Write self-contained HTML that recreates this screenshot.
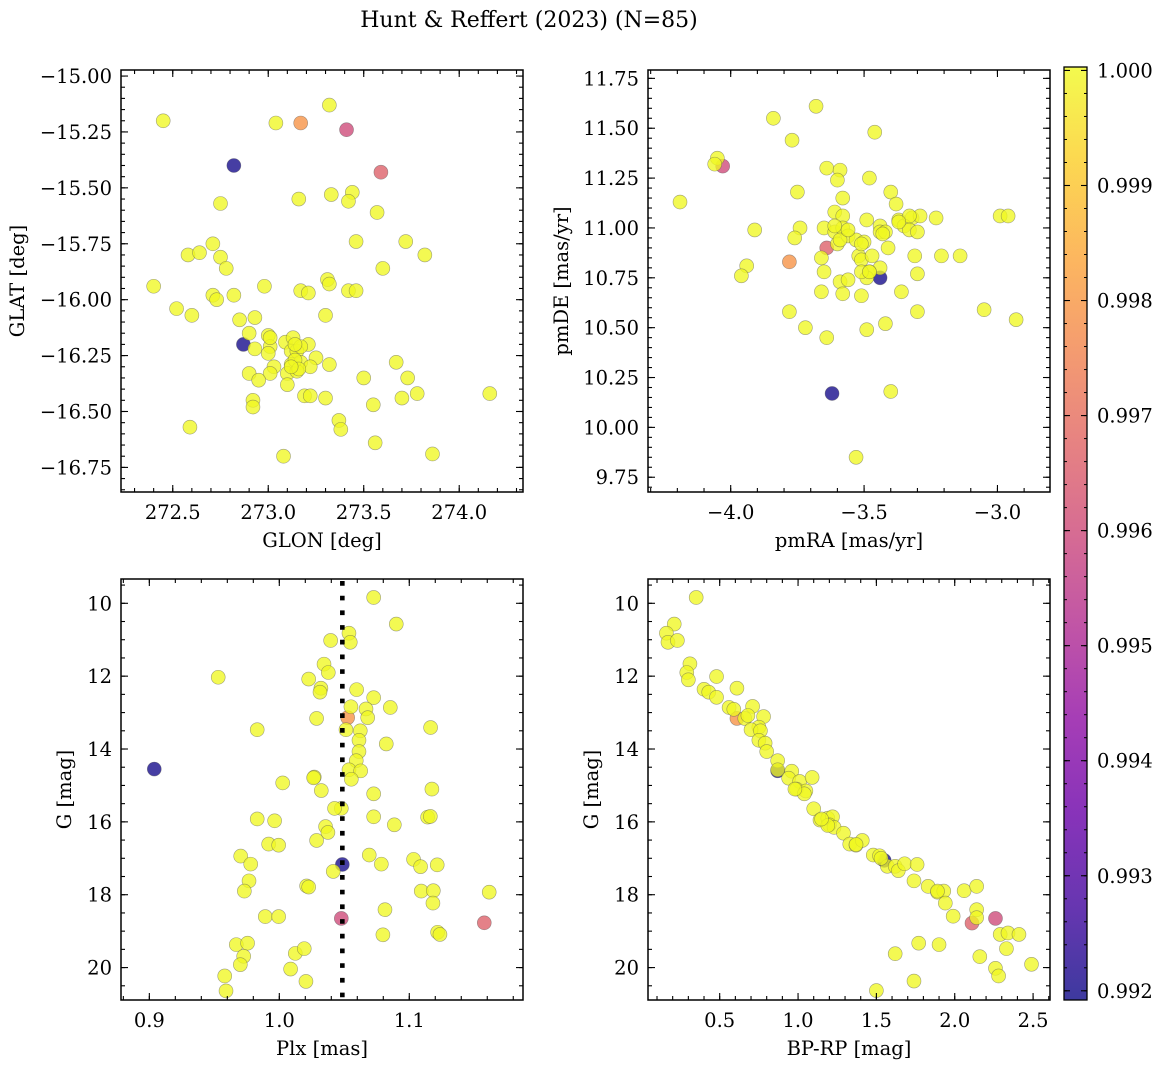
<!DOCTYPE html>
<html><head><meta charset="utf-8"><style>
html,body{margin:0;padding:0;background:#fff;}
svg{display:block;font-family:"DejaVu Serif","Liberation Serif",serif;}
</style></head><body>
<svg id="fig" width="1161" height="1067" viewBox="0 0 1161 1067" xmlns="http://www.w3.org/2000/svg">
<defs>
<linearGradient id="plasma" x1="0" y1="1" x2="0" y2="0">
<stop offset="0" stop-color="#0d0887"/><stop offset="0.1" stop-color="#41049d"/><stop offset="0.2" stop-color="#6a00a8"/><stop offset="0.3" stop-color="#8f0da4"/><stop offset="0.4" stop-color="#b12a90"/><stop offset="0.5" stop-color="#cc4778"/><stop offset="0.6" stop-color="#e16462"/><stop offset="0.7" stop-color="#f2844b"/><stop offset="0.8" stop-color="#fca636"/><stop offset="0.9" stop-color="#fcce25"/><stop offset="1" stop-color="#f0f921"/>
</linearGradient>
</defs>
<text x="529" y="27" font-size="22" text-anchor="middle">Hunt &amp; Reffert (2023) (N=85)</text>
</svg>
<script>
const glon=[272.45,273.04,273.17,273.32,273.41,272.82,273.59,272.75,273.16,273.33,273.44,273.42,273.57,272.71,272.58,272.64,272.75,272.78,273.46,273.72,273.82,273.60,272.40,272.98,273.31,273.32,273.17,273.21,273.42,273.46,272.71,272.73,272.82,272.52,272.60,273.30,272.85,272.93,272.90,272.87,273.00,272.93,273.01,273.00,273.09,273.13,273.21,273.12,273.15,273.25,273.32,273.03,273.01,272.90,272.95,273.12,273.17,273.22,273.10,273.15,273.10,273.19,273.22,273.30,272.92,272.92,273.67,273.50,273.73,273.78,273.70,273.55,274.16,273.37,273.38,272.59,273.56,273.08,273.86,273.14,273.16,273.12,273.17,273.01,273.14];
const glat=[-15.20,-15.21,-15.21,-15.13,-15.24,-15.40,-15.43,-15.57,-15.55,-15.53,-15.52,-15.56,-15.61,-15.75,-15.80,-15.79,-15.81,-15.86,-15.74,-15.74,-15.80,-15.86,-15.94,-15.94,-15.91,-15.93,-15.96,-15.97,-15.96,-15.96,-15.98,-16.00,-15.98,-16.04,-16.07,-16.07,-16.09,-16.08,-16.15,-16.20,-16.16,-16.22,-16.21,-16.24,-16.19,-16.17,-16.20,-16.23,-16.23,-16.26,-16.29,-16.30,-16.33,-16.33,-16.36,-16.29,-16.28,-16.30,-16.33,-16.32,-16.38,-16.43,-16.43,-16.44,-16.45,-16.48,-16.28,-16.35,-16.35,-16.42,-16.44,-16.47,-16.42,-16.54,-16.58,-16.57,-16.64,-16.70,-16.69,-16.27,-16.31,-16.30,-16.21,-16.17,-16.20];
const probA=[1,1,0.9979,1,0.9960,0.9920,0.9966,1,1,1, 1,1,1,1,1,1,1,1,1,1, 1,1,1,1,1,1,1,1,1,1, 1,1,1,1,1,1,1,1,1,0.9920, 1,1,1,1,1,1,1,1,1,1, 1,1,1,1,1,1,1,1,1,1, 1,1,1,1,1,1,1,1,1,1, 1,1,1,1,1,1,1,1,1,1, 1,1,1,1,1];
const pmra=[-4.19,-3.84,-3.68,-3.77,-3.46,-4.05,-4.06,-4.03,-3.64,-3.59,-3.60,-3.48,-3.75,-3.58,-3.40,-3.38,-3.61,-3.58,-3.49,-3.37,-3.32,-3.29,-3.23,-2.99,-2.96,-3.91,-3.74,-3.76,-3.65,-3.61,-3.58,-3.60,-3.56,-3.53,-3.50,-3.44,-3.44,-3.42,-3.35,-3.33,-3.30,-3.64,-3.41,-3.66,-3.52,-3.51,-3.47,-3.31,-3.21,-3.14,-3.78,-3.94,-3.96,-3.65,-3.44,-3.48,-3.49,-3.44,-3.30,-3.59,-3.56,-3.66,-3.58,-3.51,-3.36,-3.78,-3.30,-3.05,-2.93,-3.72,-3.64,-3.49,-3.42,-3.62,-3.40,-3.53,-3.51,-3.59,-3.43,-3.33,-3.48,-3.61,-3.37,-3.56,-3.51];
const pmde=[11.13,11.55,11.61,11.44,11.48,11.35,11.32,11.31,11.30,11.29,11.24,11.25,11.18,11.15,11.18,11.12,11.08,11.06,11.04,11.04,11.05,11.06,11.05,11.06,11.06,10.99,11.00,10.95,11.00,10.98,11.00,10.92,10.96,10.94,10.93,11.01,10.98,10.98,11.01,10.99,10.98,10.90,10.90,10.85,10.86,10.84,10.86,10.86,10.86,10.86,10.83,10.81,10.76,10.78,10.80,10.78,10.75,10.75,10.77,10.73,10.74,10.68,10.67,10.66,10.68,10.58,10.58,10.59,10.54,10.50,10.45,10.49,10.52,10.17,10.18,9.85,10.78,10.94,10.97,11.06,10.78,11.01,11.03,10.99,10.92];
const probB=[1,1,1,1,1,1,1,0.9960,1,1, 1,1,1,1,1,1,1,1,1,1, 1,1,1,1,1,1,1,1,1,1, 1,1,1,1,1,1,1,1,1,1, 1,0.9966,1,1,1,1,1,1,1,1, 0.9979,1,1,1,1,1,1,0.9920,1,1, 1,1,1,1,1,1,1,1,1,1, 1,1,1,0.9920,1,1,1,1,1,1, 1,1,1,1,1];
const plx=[1.0726,1.090,1.0536,1.0546,1.0395,1.0344,1.0377,0.953,1.0226,1.032,1.0313,1.0595,1.0726,1.0854,1.0551,1.0667,1.068,1.0526,1.0287,0.983,1.1164,1.0513,1.0623,1.0613,1.0823,1.0613,1.0592,1.0536,1.0626,1.0554,0.9038,1.0269,1.0264,1.0026,1.0323,1.1174,1.0726,1.0477,1.0726,1.1141,1.1162,0.983,0.9964,1.0885,1.0356,1.0374,1.0287,0.9918,0.9995,0.9703,0.978,1.0485,1.0415,1.0692,1.0785,1.1033,1.1087,1.1215,0.9767,0.9731,1.021,1.0226,1.1092,1.1185,1.1182,1.1615,1.0813,0.9892,0.9995,1.0477,1.1577,1.0797,1.1218,1.1236,0.9669,0.9756,0.9726,0.970,1.0123,1.0192,1.0087,1.0205,0.958,0.959,1.0425];
const gmag3=[9.84,10.57,10.82,11.07,11.02,11.67,11.90,12.03,12.08,12.33,12.44,12.37,12.59,12.86,12.84,12.90,13.14,13.14,13.16,13.47,13.41,13.47,13.50,13.76,13.86,14.07,14.32,14.57,14.60,14.83,14.55,14.77,14.79,14.93,15.14,15.10,15.23,15.63,15.86,15.87,15.85,15.92,15.97,16.08,16.13,16.29,16.51,16.61,16.64,16.94,17.16,17.17,17.36,16.91,17.16,17.03,17.23,17.18,17.62,17.90,17.76,17.79,17.90,17.89,18.23,17.93,18.41,18.60,18.60,18.65,18.77,19.10,19.03,19.09,19.37,19.33,19.69,19.92,19.61,19.48,20.04,20.38,20.23,20.64,15.63];
const probC=[1,1,1,1,1,1,1,1,1,1, 1,1,1,1,1,1,1,0.9979,1,1, 1,1,1,1,1,1,1,1,1,1, 0.9920,1,1,1,1,1,1,1,1,1, 1,1,1,1,1,1,1,1,1,1, 1,0.9920,1,1,1,1,1,1,1,1, 1,1,1,1,1,1,1,1,1,0.9960, 0.9966,1,1,1,1,1,1,1,1,1, 1,1,1,1,1];
const bprp=[0.35,0.21,0.16,0.17,0.23,0.31,0.29,0.30,0.48,0.40,0.43,0.48,0.61,0.56,0.59,0.71,0.61,0.66,0.78,0.75,0.70,0.76,0.75,0.79,0.80,0.87,0.87,0.87,0.96,0.94,1.01,1.09,0.99,1.05,1.04,1.10,1.14,1.19,1.22,1.20,1.23,1.29,1.33,1.37,1.41,1.48,1.52,1.55,1.57,1.62,1.64,1.68,1.76,1.74,1.83,1.89,1.93,1.89,1.94,1.99,2.06,2.14,2.14,2.14,2.11,2.26,2.29,2.34,2.41,2.33,2.16,2.49,2.26,2.28,1.62,1.77,1.90,1.74,1.50,1.37,1.19,0.68,0.98,1.15,1.53];
const gmag4=[9.84,10.57,10.82,11.07,11.02,11.66,11.90,12.10,12.01,12.36,12.44,12.58,12.33,12.86,12.91,12.83,13.16,13.16,13.11,13.40,13.47,13.50,13.76,13.84,14.07,14.32,14.60,14.57,14.61,14.80,14.89,14.78,15.10,15.15,15.23,15.64,15.95,15.90,15.86,16.08,16.15,16.31,16.61,16.64,16.51,16.91,16.93,17.06,17.22,17.22,17.34,17.15,17.17,17.62,17.77,17.93,17.90,17.90,18.23,18.59,17.89,17.77,18.41,18.63,18.78,18.65,19.09,19.05,19.09,19.48,19.70,19.91,20.02,20.23,19.62,19.33,19.37,20.37,20.63,16.62,16.10,13.08,15.10,15.92,17.00];
const probD=[1,1,1,1,1,1,1,1,1,1, 1,1,1,1,1,1,0.9979,1,1,1, 1,1,1,1,1,1,0.9920,1,1,1, 1,1,1,1,1,1,1,1,1,1, 1,1,1,1,1,1,1,0.9920,1,1, 1,1,1,1,1,1,1,1,1,1, 1,1,1,1,0.9966,0.9960,1,1,1,1, 1,1,1,1,1,1,1,1,1,1, 1,1,1,1,1];
const cbarTicks=[0.992,0.993,0.994,0.995,0.996,0.997,0.998,0.999,1.000];
const plxRef=1.0485;
const VMIN=0.99192, VMAX=1.00003;

const NS="http://www.w3.org/2000/svg";
const svg=document.getElementById('fig');
const FS=19.5;
const stops=[[13,8,135],[65,4,157],[106,0,168],[143,13,164],[177,42,144],[204,71,120],[225,100,98],[242,132,75],[252,166,54],[252,206,37],[240,249,33]];
function plasma(t){t=Math.max(0,Math.min(1,t));const f=t*10,i=Math.min(9,Math.floor(f)),u=f-i;const a=stops[i],b=stops[i+1];return 'rgb('+a.map((v,k)=>Math.round(v+(b[k]-v)*u)).join(',')+')';}
function mk(tag,attrs,parent){const e=document.createElementNS(NS,tag);for(const k in attrs)e.setAttribute(k,attrs[k]);(parent||svg).appendChild(e);return e;}
function fmtNum(v,d){const s=Math.abs(v).toFixed(d);return (v<-1e-9?'\u2212':'')+s;}

function panel(cfg,xs,ys,ps){
  const g=mk('g',{});
  
  
  const [X0,Y0,X1,Y1]=cfg.box;
  const sx=v=>X0+(v-cfg.xlim[0])/(cfg.xlim[1]-cfg.xlim[0])*(X1-X0);
  const sy=v=>Y0+(v-cfg.ylim[0])/(cfg.ylim[1]-cfg.ylim[0])*(Y1-Y0);
  const pg=mk('g',{},g);
  
  
  const idx=xs.map((_,i)=>i).sort((a,b)=>ps[a]-ps[b]);
  idx.forEach(i=>{
    const c=mk('circle',{cx:sx(xs[i]),cy:sy(ys[i]),r:7,fill:plasma((ps[i]-VMIN)/(VMAX-VMIN)),'fill-opacity':0.78,stroke:'#555','stroke-opacity':0.55,'stroke-width':0.6},pg);
    
    
  });
  if(cfg.vline!==undefined){
    const l=mk('line',{x1:sx(cfg.vline),x2:sx(cfg.vline),y1:Y0+2,y2:Y1,stroke:'#000','stroke-width':4.6,'stroke-dasharray':'4.7 10'},g);
    
    
  }
  const fr=mk('rect',{x:X0,y:Y0,width:X1-X0,height:Y1-Y0,fill:'none',stroke:'#000','stroke-width':1.5},g);
  
  
  const tk=mk('g',{stroke:'#000','stroke-width':1.1},g);
  const lo=Math.min(cfg.xlim[0],cfg.xlim[1]),hi=Math.max(cfg.xlim[0],cfg.xlim[1]);
  for(let v=Math.ceil(lo/cfg.xminor-1e-6)*cfg.xminor;v<=hi+1e-9;v+=cfg.xminor){const x=sx(v);mk('line',{x1:x,x2:x,y1:Y1,y2:Y1-4},tk);mk('line',{x1:x,x2:x,y1:Y0,y2:Y0+4},tk);}
  const ylo=Math.min(cfg.ylim[0],cfg.ylim[1]),yhi=Math.max(cfg.ylim[0],cfg.ylim[1]);
  for(let v=Math.ceil(ylo/cfg.yminor-1e-6)*cfg.yminor;v<=yhi+1e-9;v+=cfg.yminor){const y=sy(v);mk('line',{x1:X0,x2:X0+4,y1:y,y2:y},tk);mk('line',{x1:X1,x2:X1-4,y1:y,y2:y},tk);}
  cfg.xticks.forEach(v=>{const x=sx(v);mk('line',{x1:x,x2:x,y1:Y1,y2:Y1-7},tk);mk('line',{x1:x,x2:x,y1:Y0,y2:Y0+7},tk);
    const t=mk('text',{x:x,y:Y1+27,'font-size':FS,'text-anchor':'middle'},g);t.textContent=fmtNum(v,cfg.xd);
    });
  cfg.yticks.forEach(v=>{const y=sy(v);mk('line',{x1:X0,x2:X0+7,y1:y,y2:y},tk);mk('line',{x1:X1,x2:X1-7,y1:y,y2:y},tk);
    const t=mk('text',{x:X0-9,y:y+7,'font-size':FS,'text-anchor':'end'},g);t.textContent=fmtNum(v,cfg.yd);
    });
  const xl=mk('text',{x:(X0+X1)/2,y:Y1+55,'font-size':FS,'text-anchor':'middle'},g);xl.textContent=cfg.xlabel;
  
  const yl=mk('text',{x:0,y:0,'font-size':FS,'text-anchor':'middle',transform:'translate('+cfg.ylx+','+((Y0+Y1)/2)+') rotate(-90)'},g);yl.textContent=cfg.ylabel;
  
}

panel({name:'glon-glat-panel',box:[121,70,523,492],xlim:[272.229,274.334],ylim:[-14.973,-16.860],xticks:[272.5,273.0,273.5,274.0],yticks:[-15.0,-15.25,-15.5,-15.75,-16.0,-16.25,-16.5,-16.75],xminor:0.1,yminor:0.05,xd:1,yd:2,xlabel:'GLON [deg]',ylabel:'GLAT [deg]',ylx:24},glon,glat,probA);
panel({name:'proper-motion-panel',box:[648,70,1050,492],xlim:[-4.310,-2.803],ylim:[11.792,9.676],xticks:[-4.0,-3.5,-3.0],yticks:[9.75,10.0,10.25,10.5,10.75,11.0,11.25,11.5,11.75],xminor:0.1,yminor:0.05,xd:1,yd:2,xlabel:'pmRA [mas/yr]',ylabel:'pmDE [mas/yr]',ylx:568},pmra,pmde,probB);
panel({name:'parallax-mag-panel',box:[121,579,523,1000],xlim:[0.8782,1.1875],ylim:[9.333,20.89],xticks:[0.9,1.0,1.1],yticks:[10,12,14,16,18,20],xminor:0.02,yminor:0.5,xd:1,yd:0,xlabel:'Plx [mas]',ylabel:'G [mag]',ylx:71,vline:plxRef},plx,gmag3,probC);
panel({name:'cmd-panel',box:[648,579,1050,1000],xlim:[0.0425,2.608],ylim:[9.333,20.89],xticks:[0.5,1.0,1.5,2.0,2.5],yticks:[10,12,14,16,18,20],xminor:0.1,yminor:0.5,xd:1,yd:0,xlabel:'BP-RP [mag]',ylabel:'G [mag]',ylx:598},bprp,gmag4,probD);

const cb=mk('g',{});


const CX0=1064,CX1=1087,CY0=67,CY1=1000;
mk('rect',{x:CX0,y:CY0,width:CX1-CX0,height:CY1-CY0,fill:'url(#plasma)','fill-opacity':0.8},cb);
mk('rect',{x:CX0,y:CY0,width:CX1-CX0,height:CY1-CY0,fill:'none',stroke:'#000','stroke-width':1.3},cb);
const cy=v=>CY1-(v-VMIN)/(VMAX-VMIN)*(CY1-CY0);
for(let v=0.9920;v<=1.00003;v+=0.0002){const y=cy(v);mk('line',{x1:CX1,x2:CX1-3,y1:y,y2:y,stroke:'#000','stroke-width':1},cb);mk('line',{x1:CX0,x2:CX0+3,y1:y,y2:y,stroke:'#000','stroke-width':1},cb);}
cbarTicks.forEach(v=>{const y=cy(v);mk('line',{x1:CX1,x2:CX1-6,y1:y,y2:y,stroke:'#000','stroke-width':1.1},cb);mk('line',{x1:CX0,x2:CX0+6,y1:y,y2:y,stroke:'#000','stroke-width':1.1},cb);
  const t=mk('text',{x:1097,y:y+7,'font-size':FS},cb);t.textContent=v.toFixed(3);
  });
</script>
</body></html>
